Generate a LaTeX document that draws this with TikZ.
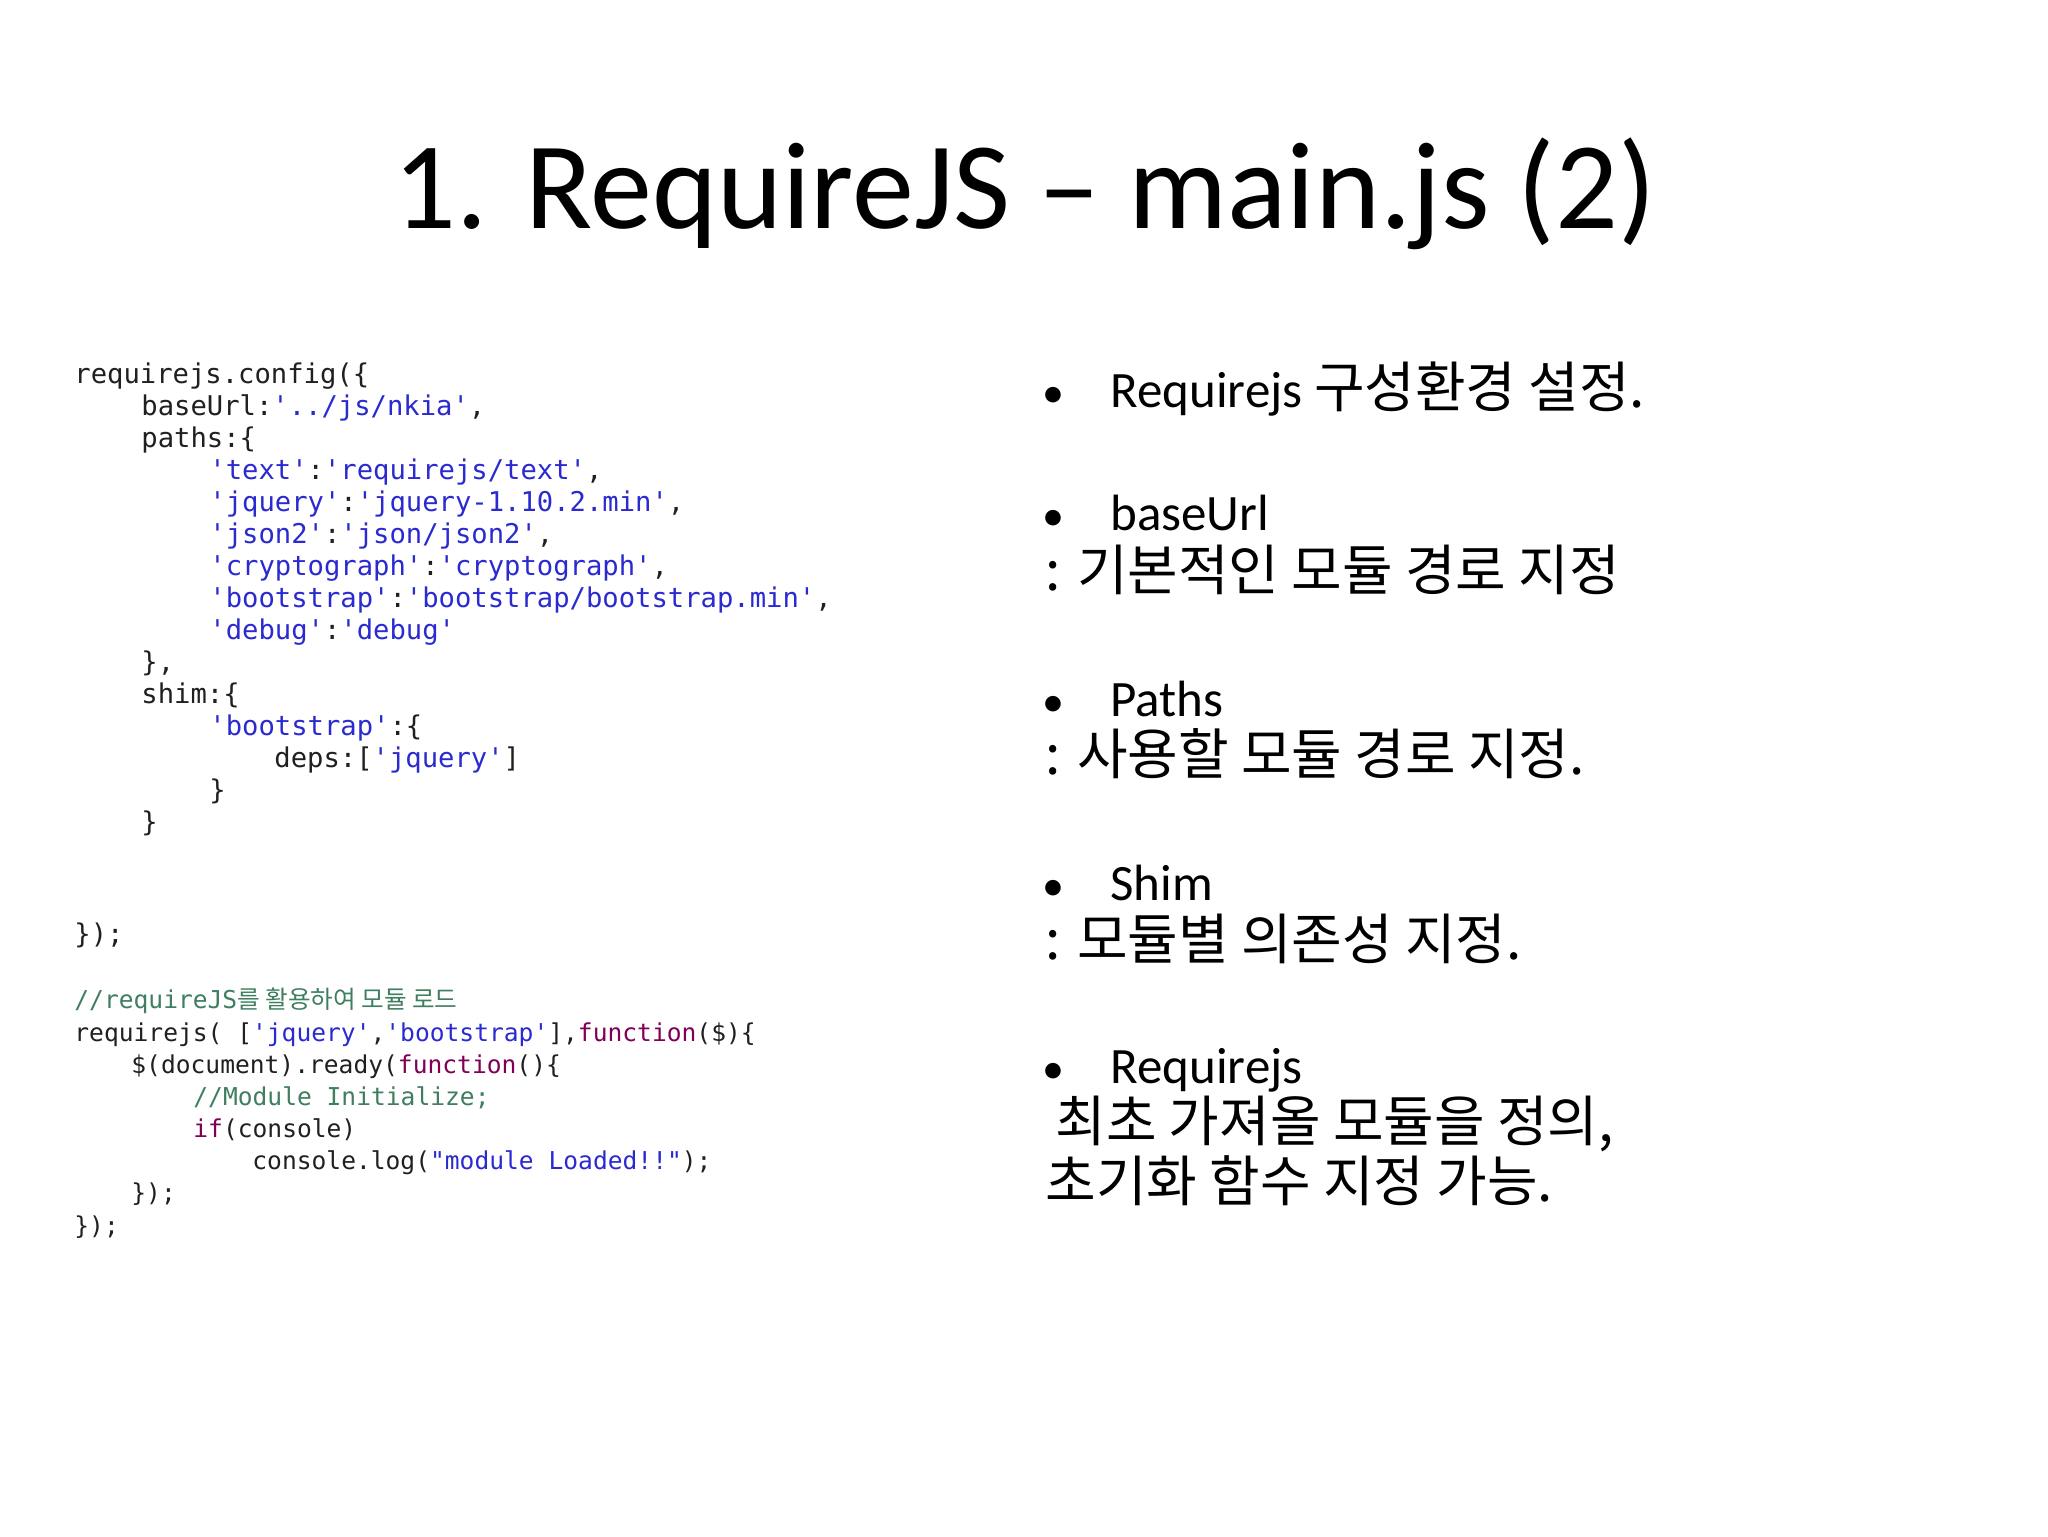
\documentclass[tikz,border=0pt]{standalone}
\usepackage{fontspec}
\setmainfont{Carlito}
\newfontfamily\kr{Noto Sans CJK KR}
\newfontfamily\cf{DejaVu Sans Mono}
\begin{document}
\begin{tikzpicture}[x=0.5pt,y=-0.5pt,
  code/.style={anchor=base west,inner sep=0pt,font=\cf\fontsize{13.6}{14}\selectfont},
  codeb/.style={anchor=base west,inner sep=0pt,font=\cf\fontsize{12.3}{14}\selectfont},
  bul/.style={anchor=base west,inner sep=0pt,font=\fontsize{25.5}{30}\selectfont},
  krl/.style={anchor=base west,inner sep=0pt,font=\kr\fontsize{27.5}{30}\selectfont}]
\definecolor{str}{HTML}{2A2AD0}
\definecolor{kw}{HTML}{7F0055}
\definecolor{cm}{HTML}{3F7F5F}
\definecolor{tx}{HTML}{202020}
\useasboundingbox (0,0) rectangle (2048,1536);
\fill[white] (0,0) rectangle (2048,1536);
\node[anchor=base,inner sep=0pt,font=\fontsize{62}{70}\selectfont] (title) at (1025,228) {1. RequireJS -- main.js (2)};
% code block 1
\node[code] (c1) at (74,383) {\color{tx}requirejs.config(\{};
\node[code] (c2) at (141,415) {\color{tx}baseUrl:\color{str}'../js/nkia'\color{tx},};
\node[code] (c3) at (141,447) {\color{tx}paths:\{};
\node[code] (c4) at (209,479) {\color{str}'text'\color{tx}:\color{str}'requirejs/text'\color{tx},};
\node[code] (c5) at (209,511) {\color{str}'jquery'\color{tx}:\color{str}'jquery-1.10.2.min'\color{tx},};
\node[code] (c6) at (209,543) {\color{str}'json2'\color{tx}:\color{str}'json/json2'\color{tx},};
\node[code] (c7) at (209,575) {\color{str}'cryptograph'\color{tx}:\color{str}'cryptograph'\color{tx},};
\node[code] (c8) at (209,607) {\color{str}'bootstrap'\color{tx}:\color{str}'bootstrap/bootstrap.min'\color{tx},};
\node[code] (c9) at (209,639) {\color{str}'debug'\color{tx}:\color{str}'debug'};
\node[code] (c10) at (141,671) {\color{tx}\},};
\node[code] (c11) at (141,703) {\color{tx}shim:\{};
\node[code] (c12) at (209,735) {\color{str}'bootstrap'\color{tx}:\{};
\node[code] (c13) at (274,767) {\color{tx}deps:[\color{str}'jquery'\color{tx}]};
\node[code] (c14) at (209,799) {\color{tx}\}};
\node[code] (c15) at (141,831) {\color{tx}\}};
\node[code] (c16) at (74,943) {\color{tx}\});};
% code block 2
\node[codeb] (d1) at (74,1008) {\color{cm}//requireJS{\kr 를 활용하여 모듈 로드}};
\node[codeb] (d2) at (74,1041) {\color{tx}requirejs( [\color{str}'jquery'\color{tx},\color{str}'bootstrap'\color{tx}],\color{kw}function\color{tx}(\$)\{};
\node[codeb] (d3) at (131,1073) {\color{tx}\$(document).ready(\color{kw}function\color{tx}()\{};
\node[codeb] (d4) at (193,1105) {\color{cm}//Module Initialize;};
\node[codeb] (d5) at (193,1137) {\color{kw}if\color{tx}(console)};
\node[codeb] (d6) at (252,1169) {\color{tx}console.log(\color{str}"module Loaded!!"\color{tx});};
\node[codeb] (d7) at (131,1201) {\color{tx}\});};
\node[codeb] (d8) at (74,1234) {\color{tx}\});};
% bullets
\foreach \y/\n in {407/a,530/b,716/c,900/d,1083/e}{
  \node[anchor=base,inner sep=0pt,font=\fontsize{22}{30}\selectfont] (dot\n) at (1053,\y) {•};}
\node[bul] (b1) at (1110,407) {Requirejs {\kr\fontsize{27.5}{30}\selectfont 구성환경 설정.}};
\node[bul] (b2) at (1110,530) {baseUrl};
\node[krl] (b2k) at (1045,590) {: 기본적인 모듈 경로 지정};
\node[bul] (b3) at (1110,716) {Paths};
\node[krl] (b3k) at (1045,774) {: 사용할 모듈 경로 지정.};
\node[bul] (b4) at (1110,900) {Shim};
\node[krl] (b4k) at (1045,959) {: 모듈별 의존성 지정.};
\node[bul] (b5) at (1110,1083) {Requirejs};
\node[krl] (b5k) at (1055,1141) {최초 가져올 모듈을 정의,};
\node[krl] (b5l) at (1045,1201) {초기화 함수 지정 가능.};
\end{tikzpicture}
\end{document}
